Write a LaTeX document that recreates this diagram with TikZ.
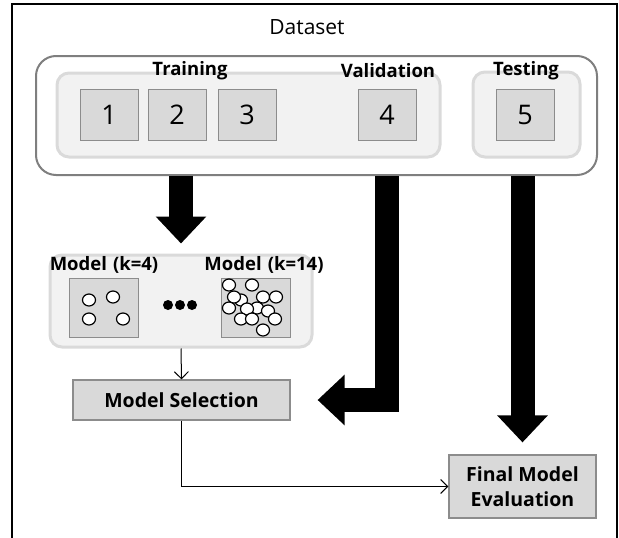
\documentclass[tikz,border=0pt]{standalone}
\usepackage{fontspec}
\setmainfont{Open Sans}
\usetikzlibrary{arrows.meta,calc}
\definecolor{boxfill}{HTML}{D9D9D9}
\definecolor{boxline}{HTML}{8C8C8C}
\definecolor{panelfill}{HTML}{F2F2F2}
\definecolor{panelline}{HTML}{DADADA}
\definecolor{outline}{HTML}{7F7F7F}
\begin{document}
\begin{tikzpicture}[x=1pt,y=-1pt,
  panel/.style={draw=panelline, line width=3pt, fill=panelfill, rounded corners=12pt, inner sep=0pt},
  numbox/.style={draw=boxline, fill=boxfill, line width=1pt, minimum width=58pt, minimum height=51pt, inner sep=0pt, font=\fontsize{27}{32}\selectfont},
  lbl/.style={font=\bfseries\fontsize{18.5}{22}\selectfont, inner sep=0pt},
  procbox/.style={draw=boxline, fill=boxfill, line width=1.2pt, inner sep=0pt, font=\bfseries\fontsize{19.5}{25}\selectfont, align=center},
  bigarrow/.style={line width=24pt, -{Triangle[width=49pt,length=27pt]}},
  flowline/.style={line width=1pt, -{Straight Barb[length=7pt,width=14pt]}},
  blob/.style={draw=black, fill=white, line width=1.2pt}
]
\useasboundingbox (0,0) rectangle (619,538);
% outer frame
\draw[line width=2pt] (12,538) -- (12,4) -- (617,4) -- (617,538);
\node[font=\fontsize{21}{25}\selectfont] (dslabel) at (307,27) {Dataset};
% dataset container
\node[draw=outline, line width=2pt, rounded corners=20pt, minimum width=561pt, minimum height=119pt, inner sep=0pt] (data) at (316.5,115.5) {};
\node[panel, minimum width=383pt, minimum height=84pt] (trainval) at (248.5,115) {};
\node[panel, minimum width=107pt, minimum height=85pt] (testp) at (526.5,114.5) {};
\node[numbox] (b1) at (109,114.5) {1};
\node[numbox] (b2) at (177,114.5) {2};
\node[numbox] (b3) at (247,114.5) {3};
\node[numbox] (b4) at (387,114.5) {4};
\node[numbox] (b5) at (525,114.5) {5};
\node[lbl] (ltrain) at (190,71) {Training};
\node[lbl] (lval) at (388,71) {Validation};
\node[lbl] (ltest) at (526,71) {Testing};
% models panel
\node[panel, minimum width=262pt, minimum height=92pt] (models) at (181,301) {};
\node[lbl] (lk4) at (104,265) {Model\,\,(k=4)};
\node[lbl] (lk14) at (264,265) {Model\,\,(k=14)};
\node[numbox, minimum width=69pt, minimum height=59pt] (k4) at (103.5,307.5) {};
\node[numbox, minimum width=69pt, minimum height=59pt] (k14) at (255.5,307.5) {};
\foreach \p in {(89,300),(113,297),(89,319),(123,319)}
  \draw[blob] \p ellipse (6.5 and 6);
\foreach \p in {(229,285),(252,285),(263,297),(276,297),(241,300),(229,308),(257,308),(247,309),(268,311),(241,319),(252,319),(275,319),(263,330),(234,297)}
  \draw[blob] \p ellipse (6.5 and 6);
\foreach \x in {168,180,192}
  \fill (\x,305) circle (5);
% process boxes
\node[procbox, minimum width=217pt, minimum height=40pt] (sel) at (181.5,400) {Model Selection};
\node[procbox, minimum width=147pt, minimum height=63pt] (final) at (522.5,486.5) {Final Model\\Evaluation};
% thick arrows
\draw[bigarrow] (data.south -| models.north) -- ($(models.north)+(0,-10)$);
\draw[bigarrow] (data.south -| b4) |- ($(sel.east)+(27,0)$);
\draw[bigarrow] (data.south -| final.north) -- ($(final.north)+(0,-12)$);
% thin connectors
\draw[flowline] (models.south) -- (sel.north);
\draw[flowline] (sel.south) |- (final.west);
\end{tikzpicture}
\end{document}
